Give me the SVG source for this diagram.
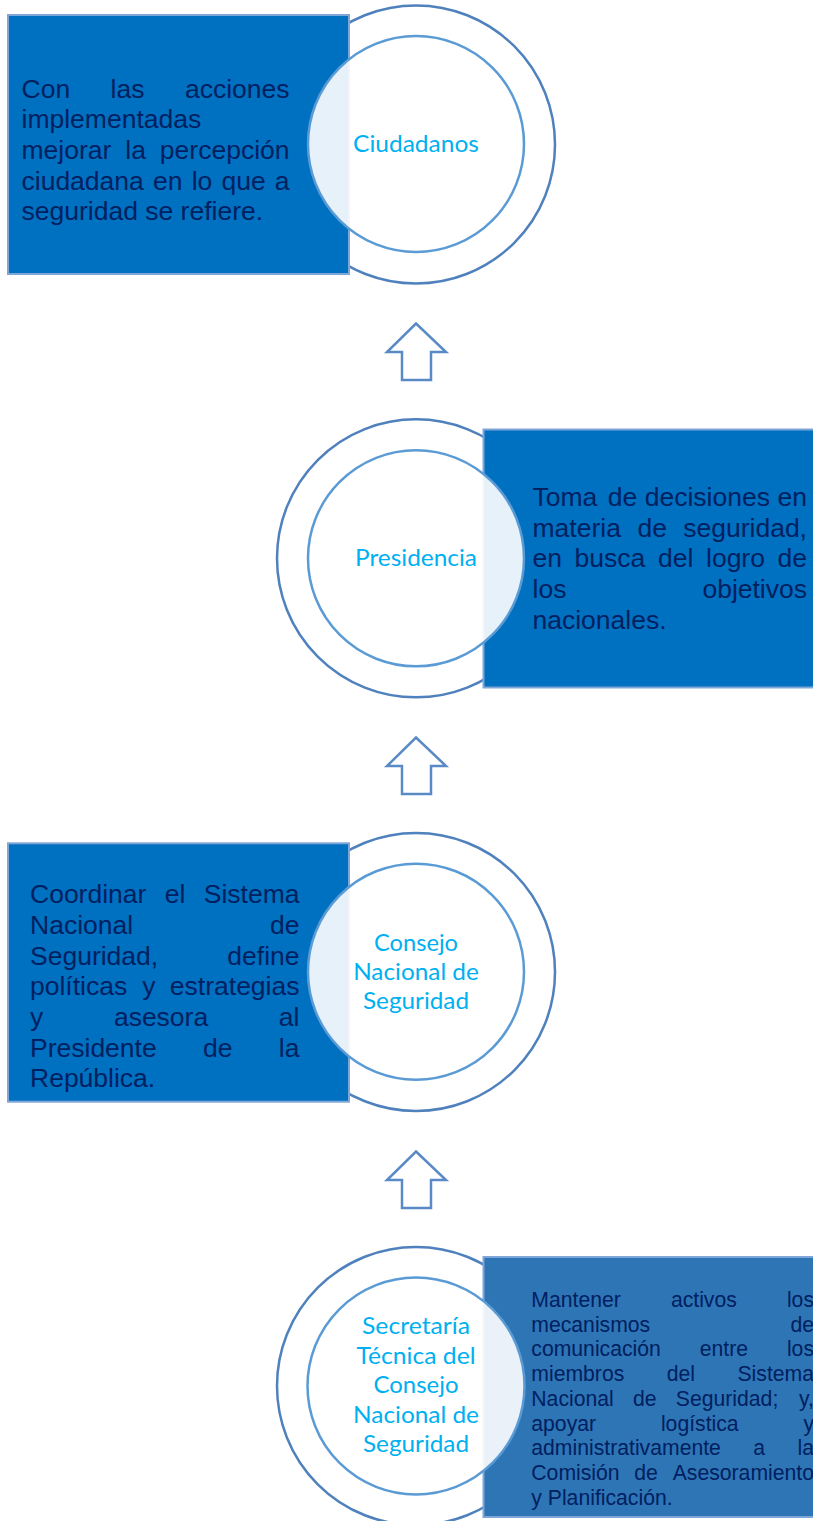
<svg xmlns="http://www.w3.org/2000/svg" width="813" height="1521" viewBox="0 0 813 1521">
<style>
.outer{fill:#FFFFFF;stroke:#4F81BD;stroke-width:2.5}
.inner{fill:#FFFFFF;fill-opacity:0.9;stroke:#5B9BD5;stroke-width:2.5}
.box{fill:#0070C0;stroke:#7EA6D8;stroke-width:2}
.box2{fill:#2E75B6;stroke:#7EA6D8;stroke-width:2}
.bt{font-family:"Liberation Sans",Arial,sans-serif;font-size:26.5px;fill:#002060}
.st{font-family:"Liberation Sans",Arial,sans-serif;font-size:21.2px;fill:#002060}
.e{text-anchor:end}
.lbl{font-family:Lato,"Open Sans",sans-serif;font-size:24px;fill:#00B0F0;text-anchor:middle}
.arrow{fill:#FFFFFF;stroke:#5A8AC6;stroke-width:2.5;stroke-linejoin:miter}
</style>
<rect width="813" height="1521" fill="#FFFFFF"/>

<g id="ciudadanos">
<circle class="outer" cx="416" cy="144.5" r="139"/>
<rect class="box" x="8" y="15" width="341" height="259"/>
<circle class="inner" cx="416" cy="144" r="108"/>
<text class="lbl" x="416" y="152" textLength="126" lengthAdjust="spacingAndGlyphs">Ciudadanos</text>
<text class="bt" y="97.7"><tspan x="21.5">Con</tspan><tspan x="110.6">las</tspan><tspan class="e" x="289.5">acciones</tspan></text>
<text class="bt" x="21.5" y="128.3">implementadas</text>
<text class="bt" y="159"><tspan x="21.5">mejorar</tspan><tspan x="125.3">la</tspan><tspan class="e" x="289.5">percepción</tspan></text>
<text class="bt" y="189.6"><tspan x="21.5">ciudadana</tspan><tspan x="153">en</tspan><tspan x="191.7">lo</tspan><tspan x="221.5">que</tspan><tspan class="e" x="289.5">a</tspan></text>
<text class="bt" x="21.5" y="220.2">seguridad se refiere.</text>
</g>

<g id="presidencia">
<circle class="outer" cx="416" cy="558.3" r="139"/>
<rect class="box" x="483.5" y="429.5" width="333" height="258"/>
<circle class="inner" cx="416" cy="558.3" r="108"/>
<text class="lbl" x="416" y="565.5" textLength="122" lengthAdjust="spacingAndGlyphs">Presidencia</text>
<text class="bt" y="506"><tspan x="532.5">Toma</tspan><tspan x="607.7">de</tspan><tspan x="644.7">decisiones</tspan><tspan class="e" x="807">en</tspan></text>
<text class="bt" y="536.7"><tspan x="532.5">materia</tspan><tspan x="637.4">de</tspan><tspan class="e" x="807">seguridad,</tspan></text>
<text class="bt" y="567.3"><tspan x="532.5">en</tspan><tspan x="574.6">busca</tspan><tspan x="658">del</tspan><tspan x="706">logro</tspan><tspan class="e" x="807">de</tspan></text>
<text class="bt" y="597.9"><tspan x="532.5">los</tspan><tspan class="e" x="807">objetivos</tspan></text>
<text class="bt" x="532.5" y="628.5">nacionales.</text>
</g>

<g id="consejo">
<circle class="outer" cx="416" cy="972" r="139"/>
<rect class="box" x="8" y="843.3" width="341" height="258.4"/>
<circle class="inner" cx="416" cy="971.7" r="108"/>
<text class="lbl" x="416" y="950.7" textLength="84" lengthAdjust="spacingAndGlyphs">Consejo</text>
<text class="lbl" x="416" y="980" textLength="125.7" lengthAdjust="spacingAndGlyphs">Nacional de</text>
<text class="lbl" x="416" y="1008.5" textLength="106" lengthAdjust="spacingAndGlyphs">Seguridad</text>
<text class="bt" y="903.3"><tspan x="30">Coordinar</tspan><tspan x="164.7">el</tspan><tspan class="e" x="299.5">Sistema</tspan></text>
<text class="bt" y="934"><tspan x="30">Nacional</tspan><tspan class="e" x="299.5">de</tspan></text>
<text class="bt" y="964.6"><tspan x="30">Seguridad,</tspan><tspan class="e" x="299.5">define</tspan></text>
<text class="bt" y="995.2"><tspan x="30">políticas</tspan><tspan x="142.2">y</tspan><tspan class="e" x="299.5">estrategias</tspan></text>
<text class="bt" y="1025.9"><tspan x="30">y</tspan><tspan x="113.9">asesora</tspan><tspan class="e" x="299.5">al</tspan></text>
<text class="bt" y="1056.5"><tspan x="30">Presidente</tspan><tspan x="203">de</tspan><tspan class="e" x="299.5">la</tspan></text>
<text class="bt" x="30" y="1087.2">República.</text>
</g>

<g id="secretaria">
<circle class="outer" cx="416" cy="1386" r="139"/>
<rect class="box2" x="483.5" y="1257" width="333" height="260"/>
<circle class="inner" cx="416" cy="1386" r="108.5"/>
<text class="lbl" x="416" y="1334.3" textLength="108" lengthAdjust="spacingAndGlyphs">Secretaría</text>
<text class="lbl" x="416" y="1363.8" textLength="119" lengthAdjust="spacingAndGlyphs">Técnica del</text>
<text class="lbl" x="416" y="1393.2" textLength="85" lengthAdjust="spacingAndGlyphs">Consejo</text>
<text class="lbl" x="416" y="1422.6" textLength="126" lengthAdjust="spacingAndGlyphs">Nacional de</text>
<text class="lbl" x="416" y="1452" textLength="106" lengthAdjust="spacingAndGlyphs">Seguridad</text>
<text class="st" y="1307"><tspan x="531.3">Mantener</tspan><tspan x="670.9">activos</tspan><tspan class="e" x="814">los</tspan></text>
<text class="st" y="1331.7"><tspan x="531.3">mecanismos</tspan><tspan class="e" x="814">de</tspan></text>
<text class="st" y="1356.4"><tspan x="531.3">comunicación</tspan><tspan x="699.8">entre</tspan><tspan class="e" x="814">los</tspan></text>
<text class="st" y="1381.1"><tspan x="531.3">miembros</tspan><tspan x="666.7">del</tspan><tspan class="e" x="814">Sistema</tspan></text>
<text class="st" y="1405.8"><tspan x="531.3">Nacional</tspan><tspan x="633">de</tspan><tspan x="675.8">Seguridad;</tspan><tspan class="e" x="814">y,</tspan></text>
<text class="st" y="1430.5"><tspan x="531.3">apoyar</tspan><tspan x="660.9">logística</tspan><tspan class="e" x="814">y</tspan></text>
<text class="st" y="1455.2"><tspan x="531.3">administrativamente</tspan><tspan x="753.3">a</tspan><tspan class="e" x="814">la</tspan></text>
<text class="st" y="1479.9"><tspan x="531.3">Comisión</tspan><tspan x="634.3">de</tspan><tspan class="e" x="814">Asesoramiento</tspan></text>
<text class="st" x="531.3" y="1504.6">y Planificación.</text>
</g>

<g id="connectors">
<path class="arrow" d="M416,323.5 L446,352 L431,352 L431,380 L402,380 L402,352 L387,352 Z"/>
<path class="arrow" d="M416,737.5 L446,766 L431,766 L431,794 L402,794 L402,766 L387,766 Z"/>
<path class="arrow" d="M416,1151.5 L446,1180 L431,1180 L431,1208 L402,1208 L402,1180 L387,1180 Z"/>
</g>
</svg>
